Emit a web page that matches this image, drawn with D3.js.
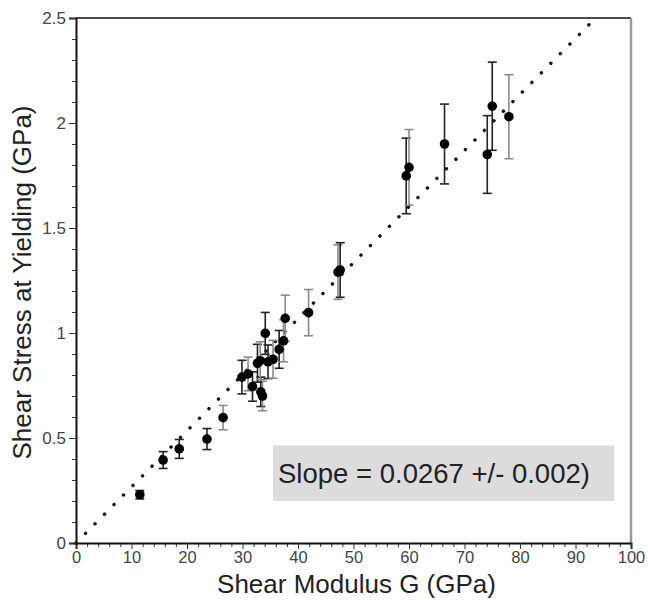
<!DOCTYPE html>
<html><head><meta charset="utf-8">
<script src="https://cdn.jsdelivr.net/npm/d3@7"></script>
<style>body{margin:0;background:#fff}svg{display:block}text{font-family:"Liberation Sans",Arial,sans-serif}</style>
</head><body><div id="chart"></div>
<script>
// Data (Shear modulus G in GPa, shear stress at yielding in GPa, error)
const shearModulus = [11.5, 15.7, 18.6, 23.6, 26.5, 29.9, 31.0, 31.8, 33.3, 33.6, 32.7, 33.2, 34.6, 35.5, 36.6, 37.4, 34.1, 37.7, 41.9, 47.2, 47.6, 59.5, 60.0, 66.4, 74.1, 75.0, 78.0];
const shearStress  = [0.23, 0.395, 0.448, 0.495, 0.597, 0.79, 0.805, 0.745, 0.72, 0.70, 0.856, 0.868, 0.863, 0.875, 0.922, 0.963, 0.998, 1.07, 1.097, 1.29, 1.30, 1.748, 1.789, 1.90, 1.85, 2.08, 2.03];
const stressError  = [0.02, 0.04, 0.045, 0.05, 0.058, 0.08, 0.08, 0.07, 0.07, 0.07, 0.09, 0.09, 0.08, 0.09, 0.09, 0.1, 0.1, 0.11, 0.11, 0.13, 0.13, 0.18, 0.18, 0.19, 0.185, 0.21, 0.2];
const errorGray    = [0, 0, 0, 0, 1, 0, 1, 0, 0, 1, 0, 1, 0, 1, 0, 1, 0, 1, 1, 1, 0, 0, 1, 0, 0, 0, 1];
const fitSlope = 0.0267;
const xTicks = [0, 10, 20, 30, 40, 50, 60, 70, 80, 90, 100];
const yTicks = [0, 0.5, 1, 1.5, 2, 2.5];
const yTickLabels = ["0", "0.5", "1", "1.5", "2", "2.5"];
const slopeLabel = "Slope = 0.0267 +/- 0.002)";

const W = 648, H = 600;
const m = {left: 76, right: 17, top: 18, bottom: 57};
const svg = d3.select("#chart").append("svg").attr("width", W).attr("height", H);

const x = d3.scaleLinear().domain([0, 100]).range([m.left, W - m.right]);
const y = d3.scaleLinear().domain([0, 2.5]).range([H - m.bottom, m.top]);

// label box
svg.append("rect").attr("x", x(35.5)).attr("y", y(0.465)).attr("width", x(97) - x(35.5)).attr("height", y(0.2) - y(0.465))
  .attr("fill", "#dcdcdc");
svg.append("text").attr("x", x(36.4)).attr("y", y(0.285)).attr("font-size", 27.5).attr("fill", "#222").text(slopeLabel);

// frame top/right
svg.append("line").attr("x1", x(0)).attr("x2", x(100)).attr("y1", y(2.5)).attr("y2", y(2.5)).attr("stroke", "#111").attr("stroke-width", 1.5);
svg.append("line").attr("x1", x(100)).attr("x2", x(100)).attr("y1", y(2.5)).attr("y2", y(0)).attr("stroke", "#999").attr("stroke-width", 2.5);

// fit line (dotted)
svg.append("line").attr("x1", x(0)).attr("y1", y(0)).attr("x2", x(2.5 / fitSlope)).attr("y2", y(2.5))
  .attr("stroke", "#111").attr("stroke-width", 3.4).attr("stroke-linecap", "round").attr("stroke-dasharray", "0.1,13.4");

// axes
const xMinor = d3.range(0, 101, 2).filter(v => v % 10 !== 0);
const yMinor = d3.range(1, 25).map(v => v / 10).filter(v => Math.round(v * 10) % 5 !== 0);

const gx = svg.append("g").attr("transform", `translate(0,${y(0)})`);
gx.append("g").call(d3.axisBottom(x).tickValues(xMinor).tickSize(4).tickFormat(""))
  .call(g => g.select(".domain").remove()).selectAll("line").attr("stroke", "#333");
gx.append("g").call(d3.axisBottom(x).tickValues(xTicks).tickSize(6).tickPadding(2).tickFormat(d3.format("d")))
  .call(g => g.select(".domain").attr("stroke", "#111").attr("stroke-width", 2))
  .call(g => g.selectAll("text").attr("font-size", 16.5).attr("fill", "#444"))
  .call(g => g.selectAll("line").attr("stroke", "#333"));

const gy = svg.append("g").attr("transform", `translate(${x(0)},0)`);
gy.append("g").call(d3.axisLeft(y).tickValues(yMinor).tickSize(4).tickFormat(""))
  .call(g => g.select(".domain").remove()).selectAll("line").attr("stroke", "#333");
gy.append("g").call(d3.axisLeft(y).tickValues(yTicks).tickSize(7).tickPadding(3).tickFormat((d, i) => yTickLabels[i]))
  .call(g => g.select(".domain").attr("stroke", "#111").attr("stroke-width", 2))
  .call(g => g.selectAll("text").attr("font-size", 17).attr("fill", "#444"))
  .call(g => g.selectAll("line").attr("stroke", "#333"));

// axis titles
svg.append("text").attr("x", (x(0) + x(100)) / 2 + 3).attr("y", 593).attr("text-anchor", "middle")
  .attr("font-size", 26).attr("fill", "#222").text("Shear Modulus G (GPa)");
svg.append("text").attr("transform", `translate(31,${(y(0) + y(2.5)) / 2 + 2}) rotate(-90)`).attr("text-anchor", "middle")
  .attr("font-size", 26).attr("fill", "#222").text("Shear Stress at Yielding (GPa)");

// error bars
const data = shearModulus.map((g, i) => ({g, s: shearStress[i], e: stressError[i], gray: errorGray[i]}));
const eb = svg.append("g").selectAll("g").data(data).join("g")
  .attr("stroke", d => d.gray ? "#8a8a8a" : "#222").attr("stroke-width", 1.6);
eb.append("line").attr("x1", d => x(d.g)).attr("x2", d => x(d.g)).attr("y1", d => y(d.s - d.e)).attr("y2", d => y(d.s + d.e));
eb.append("line").attr("x1", d => x(d.g) - 4.5).attr("x2", d => x(d.g) + 4.5).attr("y1", d => y(d.s - d.e)).attr("y2", d => y(d.s - d.e));
eb.append("line").attr("x1", d => x(d.g) - 4.5).attr("x2", d => x(d.g) + 4.5).attr("y1", d => y(d.s + d.e)).attr("y2", d => y(d.s + d.e));

// points
svg.append("g").selectAll("circle").data(data).join("circle")
  .attr("cx", d => x(d.g)).attr("cy", d => y(d.s)).attr("r", 4.8).attr("fill", "#000");
</script></body></html>
